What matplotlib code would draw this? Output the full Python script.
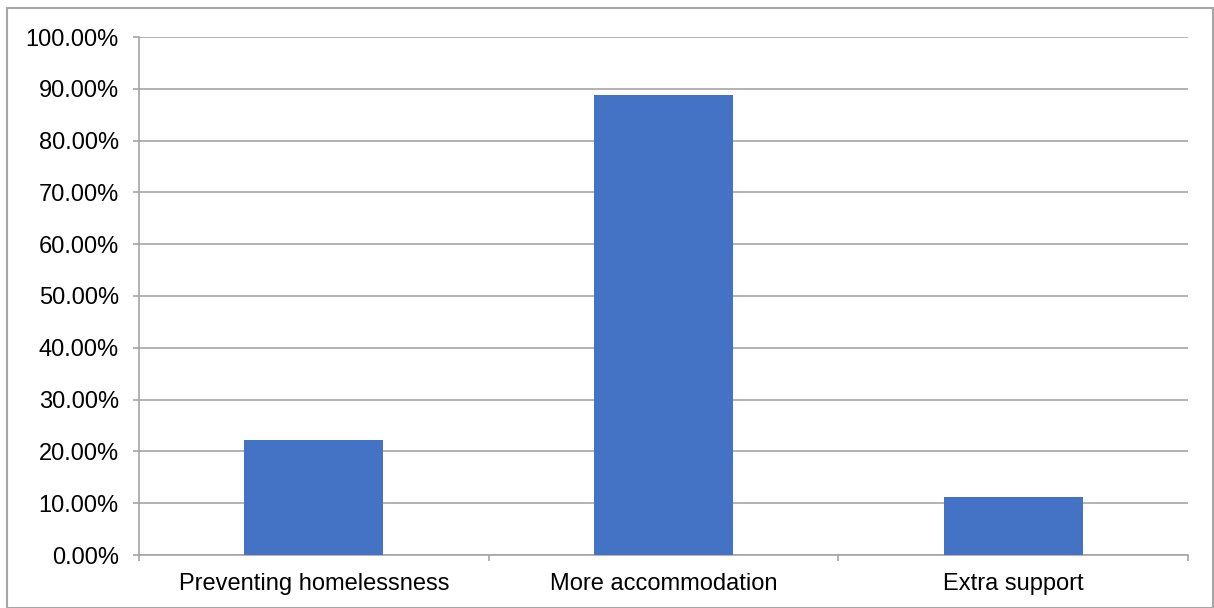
import matplotlib
matplotlib.use("Agg")
import matplotlib.pyplot as plt
from matplotlib.patches import Rectangle
from matplotlib.ticker import FixedLocator, PercentFormatter

categories = ["Preventing homelessness", "More accommodation", "Extra support"]
values = [22.22, 88.89, 11.11]
yticks = [0, 10, 20, 30, 40, 50, 60, 70, 80, 90, 100]

plt.rcParams['font.family'] = ['Liberation Sans', 'DejaVu Sans']
W, H = 1214, 608
fig = plt.figure(figsize=(W/100, H/100), dpi=100)
ax = fig.add_axes([139/W, 1-555/H, (1188-139)/W, (555-37)/H])

grid_c = '#a6a6a6'
x = list(range(len(categories)))
ax.bar(x, values, width=0.397, color='#4472C4', zorder=3)
ax.set_xlim(-0.5, len(categories)-0.5)
ax.set_ylim(0, 100)
ax.set_yticks(yticks)
ax.yaxis.set_major_formatter(PercentFormatter(decimals=2))
ax.grid(axis='y', color=grid_c, linewidth=1.2, zorder=0)
ax.set_xticks(x)
ax.set_xticklabels(categories)
ax.xaxis.set_minor_locator(FixedLocator([i-0.5 for i in range(len(categories)+1)]))
ax.tick_params(axis='x', which='major', length=0, pad=13, labelsize=17, colors='black')
ax.tick_params(axis='x', which='minor', length=4, width=1.2, color=grid_c, direction='out')
ax.tick_params(axis='y', length=4, width=1.2, color=grid_c, pad=10.5, labelsize=17, labelcolor='black')
for s in ['top', 'right']:
    ax.spines[s].set_visible(False)
for s in ['left', 'bottom']:
    ax.spines[s].set_color(grid_c)
    ax.spines[s].set_linewidth(1.2)

fig.patches.append(Rectangle((7/W, 0), (W-8)/W, 1-8/H, transform=fig.transFigure,
                             fill=False, edgecolor='#a6a6a6', linewidth=1.5))
fig.savefig('out.png', dpi=100)
